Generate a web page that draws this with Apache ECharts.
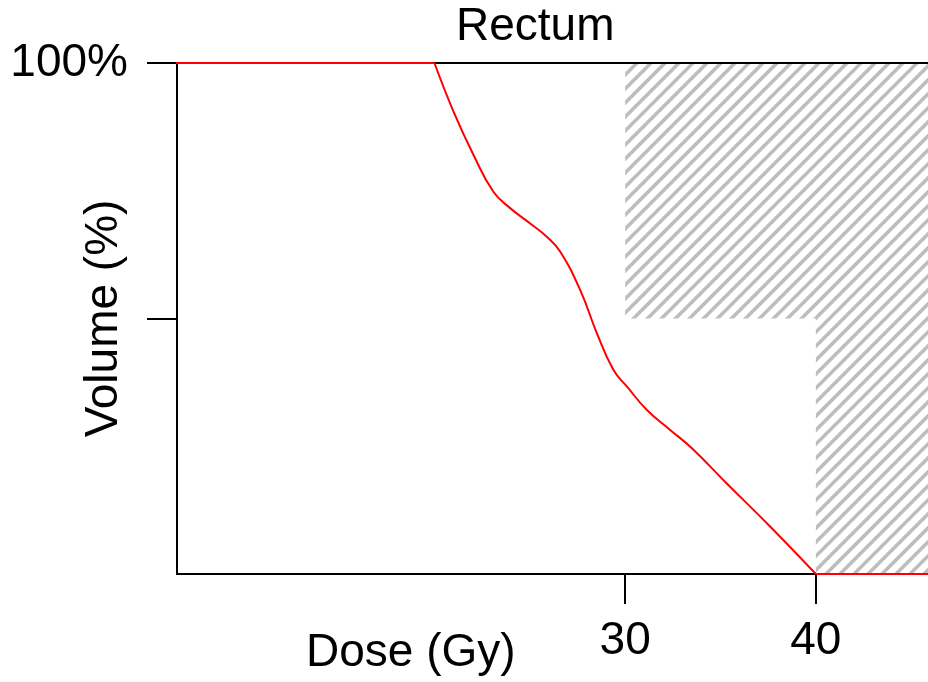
<!DOCTYPE html>
<html lang="en">
<head>
<meta charset="UTF-8">
<title>Rectum</title>
<style>
  html, body { margin: 0; padding: 0; background: #fff; }
  #chart { width: 928px; height: 682px; }
</style>
</head>
<body>
<div id="chart"></div>
<script src="https://cdn.jsdelivr.net/npm/echarts@6/dist/echarts.min.js"></script>
<script>
// dose-volume curve (Gy, %)
var dose = [0, 20, 21.0, 22.05, 23.09, 23.97, 25.02, 25.89, 26.59, 27.64, 28.52, 29.39, 30.09, 31.14, 32.36, 33.5, 35.33, 37.6, 40, 50];
var volume = [100, 100, 90.5, 82.0, 74.8, 71.6, 68.6, 66.0, 63.1, 55.6, 47.1, 39.9, 36.7, 32.1, 28.2, 24.6, 17.7, 9.3, 0, 0];

// constraints: dose above which volume must stay under the limit
var constraintDose = [30, 40];
var constraintVolume = [50, 0];

var xTicks = [30, 40];
var yTicks = [50, 100];
var yLabels = [100];

var xMin = 6.5, xMax = 50;
var font = '"Liberation Sans", Arial, sans-serif';

// hatch pattern
function makeHatch() {
  var p = 14;
  var c = document.createElement('canvas');
  c.width = p; c.height = p;
  var ctx = c.getContext('2d');
  ctx.strokeStyle = '#bdbdbd';
  ctx.lineWidth = 3.5;
  for (var k = -p; k <= p; k += p) {
    ctx.beginPath();
    ctx.moveTo(k - 2, p + 2);
    ctx.lineTo(k + p + 2, -2);
    ctx.stroke();
  }
  return c;
}
var hatch = { image: makeHatch(), repeat: 'repeat' };

var pts = dose.map(function (d, i) { return [d, volume[i]]; });
var n = pts.length;
var curve = pts.slice(1, n - 1);
var flat = [pts[0], pts[1], '-', pts[n - 2], pts[n - 1]];

var chart = echarts.init(document.getElementById('chart'));
var option = {
  animation: false,
  grid: {
    left: 177,
    top: 63,
    width: (xMax - xMin) * 19.07,
    height: 511,
    outerBoundsMode: 'none',
    containLabel: false,
    show: true,
    borderColor: '#000',
    borderWidth: 2,
    backgroundColor: 'transparent'
  },
  graphic: [
    {
      type: 'text',
      left: 456,
      top: 4,
      style: { text: 'Rectum', font: '46px ' + font, fill: '#000' }
    },
    {
      type: 'text',
      left: 306,
      top: 630,
      style: { text: 'Dose (Gy)', font: '46px ' + font, fill: '#000' }
    }
  ],
  xAxis: {
    type: 'value',
    min: xMin,
    max: xMax,
    splitLine: { show: false },
    axisLine: { show: false },
    axisTick: {
      show: true,
      length: 30,
      customValues: xTicks,
      lineStyle: { color: '#000', width: 2 }
    },
    axisLabel: {
      customValues: xTicks,
      margin: 44,
      color: '#000',
      fontSize: 46,
      fontFamily: font
    }
  },
  yAxis: {
    type: 'value',
    min: 0,
    max: 100,
    name: 'Volume (%)',
    nameLocation: 'middle',
    nameGap: 50,
    nameRotate: 90,
    nameMoveOverlap: false,
    nameTextStyle: { color: '#000', fontSize: 46, fontFamily: font },
    splitLine: { show: false },
    axisLine: { show: false },
    axisTick: {
      show: true,
      length: 30,
      customValues: yTicks,
      lineStyle: { color: '#000', width: 2 }
    },
    axisLabel: {
      customValues: yLabels,
      margin: 49,
      color: '#000',
      fontSize: 46,
      fontFamily: font,
      formatter: '{value}%'
    }
  },
  series: [
    {
      type: 'custom',
      z: -1,
      clip: true,
      silent: true,
      data: [[constraintDose[0], constraintVolume[0]]],
      renderItem: function (params, api) {
        var poly = [api.coord([constraintDose[0], 100])];
        for (var i = 0; i < constraintDose.length; i++) {
          poly.push(api.coord([constraintDose[i], constraintVolume[i]]));
          var nextX = i + 1 < constraintDose.length ? constraintDose[i + 1] : xMax;
          poly.push(api.coord([nextX, constraintVolume[i]]));
        }
        poly.push(api.coord([xMax, 100]));
        return {
          type: 'polygon',
          shape: { points: poly },
          style: { fill: hatch, stroke: null }
        };
      }
    },
    {
      type: 'line',
      data: curve,
      smooth: 0.45,
      symbol: 'none',
      lineStyle: { color: '#ff0000', width: 2 }
    },
    {
      type: 'line',
      data: flat,
      symbol: 'none',
      lineStyle: { color: '#ff0000', width: 2 }
    }
  ]
};
chart.setOption(option);
</script>
</body>
</html>
